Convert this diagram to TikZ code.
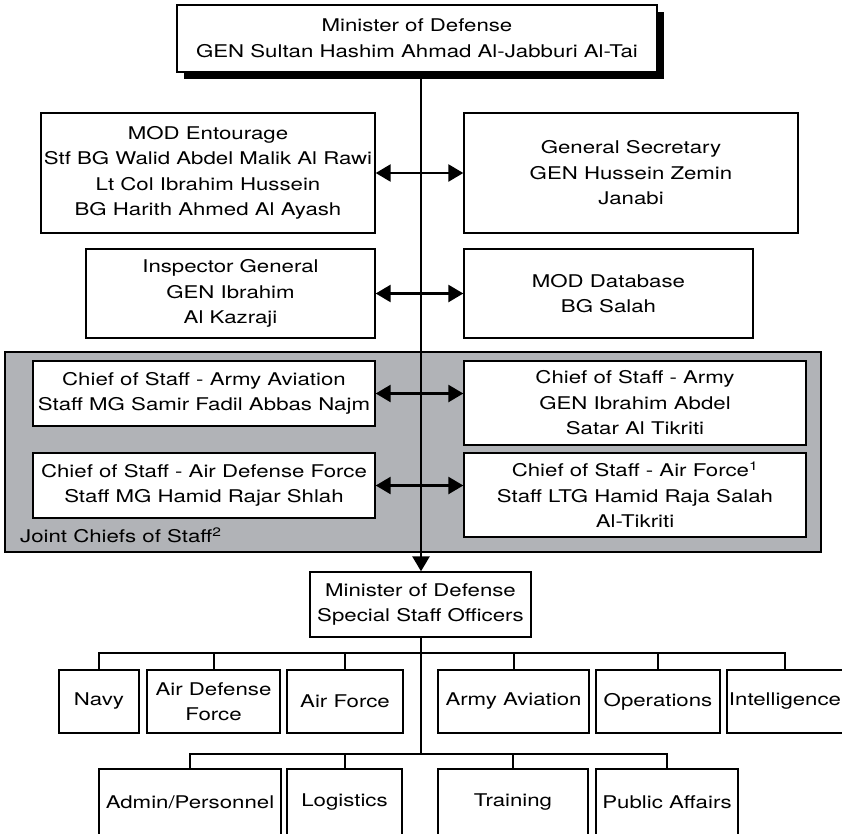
\documentclass[tikz,border=0pt]{standalone}
\usepackage{fontspec}
\setmainfont[FakeStretch=1.27]{TeX Gyre Heros}
\usetikzlibrary{arrows.meta,positioning,shadows}
\definecolor{jcsgray}{RGB}{177,179,183}

\begin{document}
\begin{tikzpicture}[
          x=1pt,y=-1pt,
          post/.style={draw,line width=1.4pt,fill=white,align=center,inner sep=0pt,
                       font=\fontsize{17.5}{25.5}\selectfont},
          wh/.style 2 args={minimum width=#1,minimum height=#2},
          ar/.style={-{Triangle[length=15pt,width=17pt]},line width=2.8pt},
          dbl/.style={{Triangle[length=15pt,width=17pt]}-{Triangle[length=15pt,width=17pt]},line width=2.6pt},
          bus/.style={line width=2pt},
          tag/.style={font=\fontsize{17.5}{25.5}\selectfont,anchor=west,inner sep=0pt}
        ]
        \useasboundingbox (0,0) rectangle (842,833);
        % minister and direct staff
        \node[post,wh={480pt}{67pt},drop shadow={shadow xshift=7pt,shadow yshift=-7pt,fill=black,opacity=1}]
              (mod) at (417,38.5) {Minister of Defense\\GEN Sultan Hashim Ahmad Al-Jabburi Al-Tai};
        \node[post,wh={334pt}{120pt}] (ent) at (208,173)
              {MOD Entourage\\Stf BG Walid Abdel Malik Al Rawi\\Lt Col Ibrahim Hussein\\BG Harith Ahmed Al Ayash};
        \node[post,wh={334pt}{120pt}] (sec) at (631,173) {General Secretary\\GEN Hussein Zemin\\Janabi};
        \node[post,wh={289pt}{89pt}] (insp) at (230.5,293.5) {Inspector General\\GEN Ibrahim\\Al Kazraji};
        \node[post,wh={289pt}{89pt}] (db) at (608.5,293.5) {MOD Database\\BG Salah};
        % joint chiefs
        \draw[line width=1.4pt,fill=jcsgray] (5,352) rectangle (821,552);
        \node[post,wh={342pt}{65pt}] (cav) at (204,393.5) {Chief of Staff - Army Aviation\\Staff MG Samir Fadil Abbas Najm};
        \node[post,wh={342pt}{65pt}] (cadf) at (204,485.5) {Chief of Staff - Air Defense Force\\Staff MG Hamid Rajar Shlah};
        \node[post,wh={342pt}{84pt}] (carmy) at (635,403) {Chief of Staff - Army\\GEN Ibrahim Abdel\\Satar Al Tikriti};
        \node[post,wh={342pt}{84pt}] (caf) at (635,495) {Chief of Staff - Air Force\textsuperscript{1}\\Staff LTG Hamid Raja Salah\\Al-Tikriti};
        \node[tag] (jcs) at (20,535) {Joint Chiefs of Staff\textsuperscript{2}};
        % special staff
        \node[post,wh={221pt}{65pt}] (ss) at (420.5,604.5) {Minister of Defense\\Special Staff Officers};
        \node[post,wh={80pt}{63pt}] (navy) at (99,701.5) {Navy};
        \node[post,wh={133pt}{63pt}] (adf) at (213.5,701.5) {Air Defense\\Force};
        \node[post,wh={116pt}{63pt}] (af) at (345,701.5) {Air Force};
        \node[post,wh={151pt}{63pt}] (aav) at (513.5,701.5) {Army Aviation};
        \node[post,wh={124pt}{63pt}] (ops) at (658,701.5) {Operations};
        \node[post,wh={116pt}{63pt}] (intel) at (785,701.5) {Intelligence};
        \node[post,wh={182pt}{66pt}] (admin) at (190,802) {Admin/Personnel};
        \node[post,wh={115pt}{66pt}] (logi) at (344.5,802) {Logistics};
        \node[post,wh={150pt}{66pt}] (train) at (513,802) {Training};
        \node[post,wh={142pt}{66pt}] (pa) at (667,802) {Public Affairs};
        % connectors
        \coordinate (b1) at (421,653);
        \coordinate (b2) at (421,754);
        \draw[ar] (mod.south -| b1) -- (ss.north -| b1);
        \draw[line width=2.8pt] (ss.south -| b1) -- (b2);
        \foreach \a/\b in {ent/sec,insp/db,cav/carmy,cadf/caf}
          \draw[dbl] (\a.east) -- (\b.west |- \a.east);
        \draw[bus] (navy.north) -- (navy.north |- b1) -- (intel.north |- b1) -- (intel.north);
        \foreach \n in {adf,af,aav,ops} \draw[bus] (\n.north) -- (\n.north |- b1);
        \draw[bus] (admin.north) -- (admin.north |- b2) -- (pa.north |- b2) -- (pa.north);
        \foreach \n in {logi,train} \draw[bus] (\n.north) -- (\n.north |- b2);
      \end{tikzpicture}
\end{document}
